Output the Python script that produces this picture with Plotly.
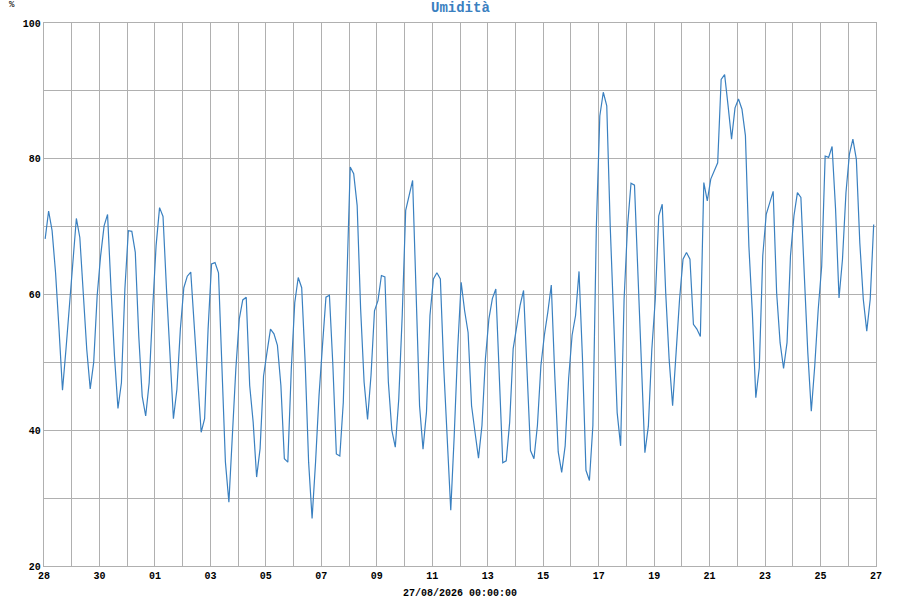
import pandas as pd
import plotly.graph_objects as go

# Umidità (%), one reading every 3 hours from 28/07 to 26/08
umidita_1 = [68.2, 72.3, 69.4, 63.2, 54.9, 45.9, 51.9, 58.8, 65.7, 71.2,
             68.4, 60.8, 51.9, 46.1, 50.0, 59.8, 65.7, 70.1, 71.8, 60.8,
             50.9, 43.2, 47.0, 60.8, 69.4, 69.3, 66.2, 53.9, 45.0, 42.1,
             47.0, 57.8, 67.2, 72.8, 71.5, 60.8, 50.9, 41.7, 46.0, 54.9,
             61.0, 62.7, 63.3, 55.4, 49.0, 39.7, 41.7, 54.9, 64.5, 64.7,
             63.2, 50.0, 35.3, 29.4, 39.2, 49.0, 56.4, 59.2, 59.6, 46.6,
             41.2, 33.1, 37.3, 48.0, 51.5, 54.9, 54.2, 52.5, 46.6, 35.8,
             35.3, 49.0, 58.8, 62.5, 61.0, 50.0, 35.3, 27.0, 35.3, 45.1]
umidita_2 = [52.5, 59.6, 59.9, 49.5, 36.5, 36.2, 44.1, 59.9, 78.8, 77.8,
             73.1, 57.9, 47.1, 41.6, 48.1, 57.6, 59.1, 62.8, 62.6, 47.1,
             40.0, 37.5, 44.6, 56.9, 72.4, 74.6, 76.8, 60.3, 43.6, 37.2,
             42.7, 56.9, 62.3, 63.2, 62.3, 49.0, 38.2, 28.2, 39.2, 52.0,
             61.8, 57.6, 54.4, 43.6, 39.7, 35.9, 40.7, 50.5, 56.4, 59.4,
             60.8, 47.6, 35.2, 35.5, 41.2, 52.0, 55.4, 58.4, 60.6, 48.5,
             37.0, 35.8, 40.7, 49.5, 54.0, 57.4, 61.4, 48.1, 36.8, 33.8,
             37.7, 47.6, 54.0, 56.9, 63.4, 50.5, 34.1, 32.6, 40.7, 70.0]
umidita_3 = [86.3, 89.8, 87.8, 70.1, 55.4, 42.6, 37.7, 59.3, 70.1, 76.4,
             76.1, 63.2, 50.4, 36.7, 40.6, 51.9, 59.3, 71.6, 73.3, 60.3,
             50.4, 43.6, 51.4, 59.3, 65.2, 66.2, 65.2, 55.6, 54.9, 53.8,
             76.5, 73.8, 77.0, 78.2, 79.4, 91.7, 92.4, 87.8, 82.9, 87.5,
             88.8, 87.3, 83.4, 67.1, 57.3, 44.8, 49.2, 65.7, 71.8, 73.5,
             75.2, 60.3, 52.9, 49.1, 52.9, 65.7, 71.6, 75.0, 74.3, 62.7,
             51.4, 42.8, 49.5, 57.8, 64.2, 80.4, 80.2, 81.8, 72.6, 59.5,
             65.2, 75.0, 80.7, 82.9, 79.9, 67.6, 59.3, 54.6, 59.3, 70.3]

umidita = umidita_1 + umidita_2 + umidita_3
tempi = pd.date_range("2026-07-28 01:00", periods=len(umidita), freq="3h")

giorni = pd.date_range("2026-07-28", "2026-08-27", freq="D")
etichette_x = [d.strftime("%d") if i % 2 == 0 else "" for i, d in enumerate(giorni)]
valori_y = list(range(20, 101, 10))
etichette_y = [str(v) if v % 20 == 0 else "" for v in valori_y]

MONO = "Liberation Mono, Courier New, monospace"
BLU = "#3a80c0"
GRIGIO = "#b0b0b0"

fig = go.Figure()
fig.add_trace(go.Scatter(
    x=tempi, y=umidita,
    mode="lines",
    line=dict(color=BLU, width=1.2),
    hoverinfo="x+y",
    showlegend=False,
))

fig.update_layout(
    width=900, height=600,
    margin=dict(l=44, r=24, t=23, b=34),
    paper_bgcolor="white",
    plot_bgcolor="white",
    xaxis=dict(
        range=[giorni[0], giorni[-1]],
        tickvals=list(giorni), ticktext=etichette_x,
        showgrid=True, gridcolor=GRIGIO, gridwidth=1.3,
        showline=True, linecolor=GRIGIO, linewidth=1.3, mirror=True,
        ticks="", zeroline=False,
        tickfont=dict(family=MONO, size=10, color="black", weight="bold"),
    ),
    yaxis=dict(
        range=[20, 100],
        tickvals=valori_y, ticktext=etichette_y,
        showgrid=True, gridcolor=GRIGIO, gridwidth=1.3,
        showline=True, linecolor=GRIGIO, linewidth=1.3, mirror=True,
        ticks="", zeroline=False,
        tickfont=dict(family=MONO, size=10, color="black", weight="bold"),
    ),
    annotations=[
        dict(text="Umidità", xref="paper", yref="paper", x=0.5, y=1.028,
             showarrow=False, xanchor="center", yanchor="middle",
             font=dict(family=MONO, size=14, color=BLU, weight="bold")),
        dict(text="%", xref="paper", yref="paper", x=-0.038, y=1.033,
             showarrow=False, xanchor="center", yanchor="middle",
             font=dict(family=MONO, size=9, color="black")),
        dict(text="27/08/2026 00:00:00", xref="paper", yref="paper", x=0.5, y=-0.05,
             showarrow=False, xanchor="center", yanchor="middle",
             font=dict(family=MONO, size=10, color="black", weight="bold")),
    ],
)

# no page margin, so the 900x600 figure fills the window
fig.write_html("out.html", config={"displayModeBar": False},
               post_script="document.body.style.margin='0px';")
